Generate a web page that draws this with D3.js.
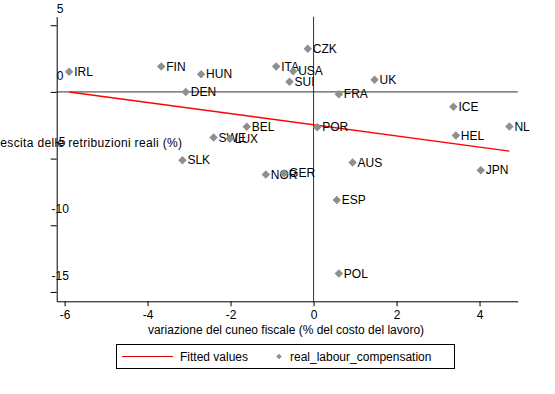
<!DOCTYPE html>
<html>
<head>
<meta charset="utf-8">
<script src="https://cdn.jsdelivr.net/npm/d3@7"></script>
<style>
  body { margin: 0; background: #fff; }
  text { font-family: "Liberation Sans", Arial, sans-serif; font-size: 12px; fill: #000; }
</style>
</head>
<body>
<script>
// country codes and their values
const countries = ["IRL","FIN","HUN","DEN","ITA","CZK","USA","SUI","UK","FRA","ICE","NL","HEL","POR","BEL","SWE","LUX","SLK","NOR","GER","AUS","JPN","ESP","POL"];
const wedgeChange = [-5.89,-3.67,-2.71,-3.08,-0.90,-0.14,-0.49,-0.58,1.47,0.61,3.37,4.72,3.43,0.09,-1.61,-2.41,-2.02,-3.16,-1.15,-0.71,0.94,4.03,0.56,0.61];
const wageGrowth  = [1.52,1.90,1.33,0.0,1.90,3.24,1.55,0.77,0.92,-0.17,-1.12,-2.60,-3.27,-2.65,-2.62,-3.41,-3.52,-5.12,-6.2,-6.1,-5.29,-5.87,-8.11,-13.61];

// fitted values at the ends of the data range
const fitX = [-5.89, 4.72];
const fitY = [0.0, -4.44];

const xTicks = [-6, -4, -2, 0, 2, 4];
const yTicks = [5, 0, -5, -10, -15];

const width = 555, height = 394;

const svg = d3.select("body")
  .append("svg")
  .attr("xmlns", "http://www.w3.org/2000/svg")
  .attr("width", width)
  .attr("height", height);

svg.append("rect").attr("width", width).attr("height", height).attr("fill", "#fff");

const xScale = d3.scaleLinear().domain([-6.19, 4.92]).range([56.7, 517.7]);
const yScale = d3.scaleLinear().domain([5.64, -15.7]).range([16.7, 301.3]);

// zero reference lines
svg.append("line")
  .attr("x1", xScale(0)).attr("x2", xScale(0))
  .attr("y1", yScale.range()[0]).attr("y2", yScale.range()[1])
  .attr("stroke", "#333").attr("stroke-width", 1);
svg.append("line")
  .attr("x1", xScale.range()[0]).attr("x2", xScale.range()[1])
  .attr("y1", yScale(0)).attr("y2", yScale(0))
  .attr("stroke", "#333").attr("stroke-width", 1);

// axes
const xAxis = d3.axisBottom(xScale).tickValues(xTicks).tickSize(5).tickSizeOuter(0).tickFormat(d => String(d));
const yAxis = d3.axisLeft(yScale).tickValues(yTicks).tickSize(6).tickSizeOuter(0).tickFormat(d => String(d));

const gx = svg.append("g")
  .attr("transform", `translate(0,${yScale.range()[1]})`)
  .call(xAxis);
gx.selectAll("text").attr("y", 9).attr("font-family", null).attr("font-size", null);

const gy = svg.append("g")
  .attr("transform", `translate(${xScale.range()[0]},0)`)
  .call(yAxis);
// labels sit above and over the ticks, as in the original
gy.selectAll("text")
  .attr("x", 3.5).attr("y", -17).attr("dy", "0.35em")
  .attr("text-anchor", "middle")
  .attr("font-family", null).attr("font-size", null);

svg.selectAll(".domain, .tick line").attr("stroke", "#000");

// axis titles
svg.append("text")
  .attr("x", 286).attr("y", 330).attr("dy", "0.35em")
  .attr("text-anchor", "middle")
  .text("variazione del cuneo fiscale (% del costo del lavoro)");
// y title runs off the left edge in the original
svg.append("text")
  .attr("x", -13).attr("y", 143).attr("dy", "0.35em")
  .attr("textLength", 195).attr("lengthAdjust", "spacing")
  .text("Crescita delle retribuzioni reali (%)");

// fitted line
svg.append("line")
  .attr("x1", xScale(fitX[0])).attr("y1", yScale(fitY[0]))
  .attr("x2", xScale(fitX[1])).attr("y2", yScale(fitY[1]))
  .attr("stroke", "#f00").attr("stroke-width", 1.5);

// points
const diamond = d3.symbol().type(d3.symbolDiamond2).size(46);
const pts = svg.append("g").attr("class", "points");
countries.forEach((c, i) => {
  const cx = xScale(wedgeChange[i]), cy = yScale(wageGrowth[i]);
  pts.append("path")
    .attr("d", diamond())
    .attr("transform", `translate(${cx},${cy})`)
    .attr("fill", "#8f8f8f");
  pts.append("text")
    .attr("x", cx + 5).attr("y", cy).attr("dy", "0.35em")
    .text(c);
});

// legend
const legend = svg.append("g");
legend.append("rect")
  .attr("x", 116.5).attr("y", 344.5).attr("width", 338).attr("height", 24)
  .attr("fill", "none").attr("stroke", "#000");
legend.append("line")
  .attr("x1", 122).attr("x2", 173).attr("y1", 356.5).attr("y2", 356.5)
  .attr("stroke", "#d00").attr("stroke-width", 1);
legend.append("text").attr("x", 180).attr("y", 356.5).attr("dy", "0.35em").text("Fitted values");
legend.append("path")
  .attr("d", d3.symbol().type(d3.symbolDiamond2).size(20)())
  .attr("transform", "translate(279,356.5)")
  .attr("fill", "#8f8f8f");
legend.append("text").attr("x", 290).attr("y", 356.5).attr("dy", "0.35em").text("real_labour_compensation");
</script>
</body>
</html>
